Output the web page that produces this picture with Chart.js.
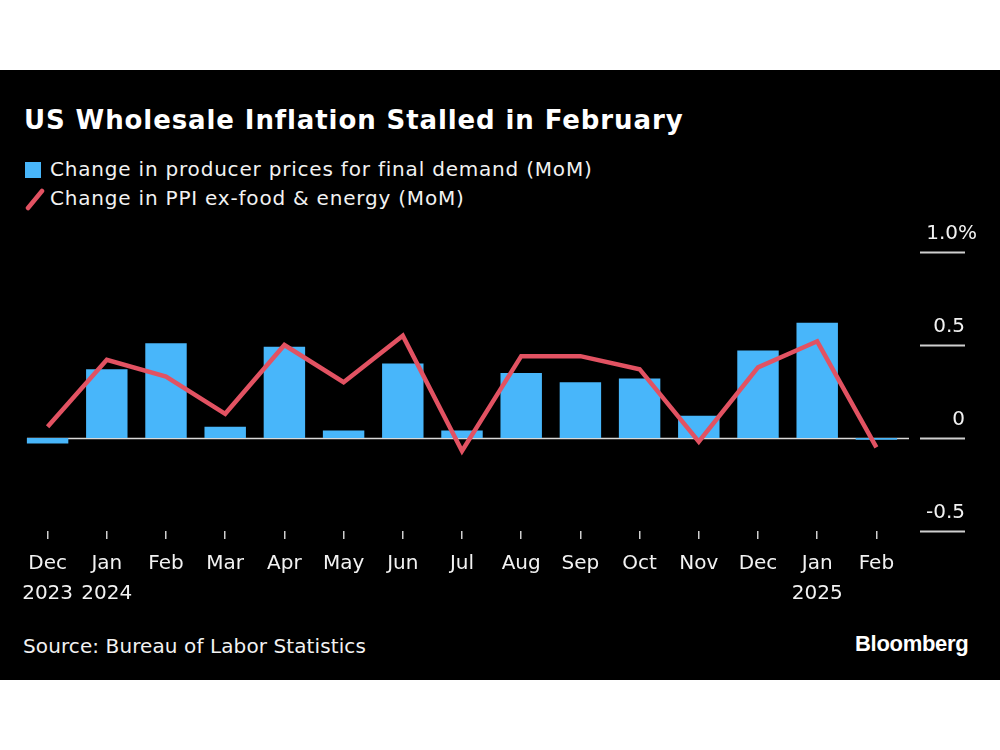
<!DOCTYPE html>
<html>
<head>
<meta charset="utf-8">
<script src="https://cdn.jsdelivr.net/npm/chart.js@4"></script>
<style>
  html, body { margin: 0; padding: 0; background: #fff; }
  #wrap { position: relative; width: 1000px; height: 750px; background: #fff; overflow: hidden; }
  #panel { position: absolute; left: 0; top: 70px; width: 1000px; height: 610px; background: #000; }
  #chart { position: absolute; left: 0; top: 0; }
  .txt { position: absolute; color: #f2f2f2; font-family: "DejaVu Sans", sans-serif; white-space: nowrap; }
  #title { left: 24px; top: 105px; font-size: 26px; font-weight: bold; color: #fff; letter-spacing: 0.9px; }
  .leg { left: 50px; font-size: 20px; letter-spacing: 0.8px; }
  #leg1 { top: 157px; }
  #leg2 { top: 186px; }
  #sq { position: absolute; left: 25px; top: 162px; width: 16px; height: 16px; background: rgb(72,182,250); }
  #slash { position: absolute; left: 24px; top: 188px; }
  #source { left: 23px; top: 634px; font-size: 20px; letter-spacing: 0.1px; }
  #logo { left: 855px; top: 631px; font-size: 22px; font-weight: bold; color: #fff; font-family: "Liberation Sans", sans-serif; letter-spacing: -0.3px; }
</style>
</head>
<body>
<div id="wrap">
  <div id="panel"></div>
  <div id="title" class="txt">US Wholesale Inflation Stalled in February</div>
  <div id="sq"></div>
  <svg id="slash" width="22" height="24"><line x1="4" y1="20" x2="18" y2="3" stroke="rgb(226,82,98)" stroke-width="4.5" stroke-linecap="round"/></svg>
  <div id="leg1" class="txt leg">Change in producer prices for final demand (MoM)</div>
  <div id="leg2" class="txt leg">Change in PPI ex-food &amp; energy (MoM)</div>
  <div id="source" class="txt">Source: Bureau of Labor Statistics</div>
  <div id="logo" class="txt">Bloomberg</div>
  <canvas id="chart" width="1000" height="750"></canvas>
</div>
<script>
let months = ['Dec', 'Jan', 'Feb', 'Mar', 'Apr', 'May', 'Jun', 'Jul', 'Aug', 'Sep', 'Oct', 'Nov', 'Dec', 'Jan', 'Feb']
let years = ['2023', '2024', '', '', '', '', '', '', '', '', '', '', '', '2025', '']
let finalDemand = [-0.03, 0.37, 0.51, 0.06, 0.49, 0.04, 0.40, 0.04, 0.35, 0.30, 0.32, 0.12, 0.47, 0.62, -0.01]
let exFoodEnergy = [0.06, 0.42, 0.33, 0.13, 0.50, 0.30, 0.55, -0.07, 0.44, 0.44, 0.37, -0.02, 0.38, 0.52, -0.05]
let yTicks = [-0.5, 0, 0.5, 1.0]
let yTickLabels = ['-0.5', '0', '0.5', '1.0%']

let labels = months.map((m, i) => years[i] ? [m, years[i]] : [m])

// right-hand axis: short lines with the label sitting on top, plus the zero line
let rightAxis = {
    id: 'rightAxis',
    beforeDatasetsDraw: (chart) => {
        let ctx = chart.ctx
        let y = chart.scales.y
        let area = chart.chartArea
        let y0 = Math.round(y.getPixelForValue(0)) + 0.5
        ctx.save()
        ctx.strokeStyle = '#d9d9d9'
        ctx.lineWidth = 1.5
        ctx.beginPath()
        ctx.moveTo(area.left + 9, y0)
        ctx.lineTo(area.right + 3, y0)
        ctx.stroke()
        ctx.restore()
    },
    afterDraw: (chart) => {
        let ctx = chart.ctx
        let y = chart.scales.y
        ctx.save()
        ctx.font = '20px "DejaVu Sans"'
        ctx.fillStyle = '#f2f2f2'
        ctx.textAlign = 'right'
        ctx.textBaseline = 'alphabetic'
        yTicks.forEach((v, i) => {
            let py = Math.round(y.getPixelForValue(v)) + 0.5
            ctx.strokeStyle = '#cfcfcf'
            ctx.lineWidth = 2
            ctx.beginPath()
            ctx.moveTo(920, py)
            ctx.lineTo(965, py)
            ctx.stroke()
            let txt = yTickLabels[i]
            let x = txt.endsWith('%') ? 977 : 965
            ctx.fillText(txt, x, py - 14)
        })
        ctx.restore()
    }
}

let ctx = document.getElementById('chart').getContext('2d')
let chart = new Chart(ctx, {
    type: 'bar',
    data: {
        labels: labels,
        datasets: [{
            type: 'line',
            label: 'Change in PPI ex-food & energy (MoM)',
            data: exFoodEnergy,
            borderColor: 'rgb(226,82,98)',
            borderWidth: 4.5,
            pointRadius: 0,
            tension: 0,
            order: 1
        }, {
            type: 'bar',
            label: 'Change in producer prices for final demand (MoM)',
            data: finalDemand,
            backgroundColor: 'rgb(72,182,250)',
            categoryPercentage: 1,
            barPercentage: 0.7,
            order: 2
        }]
    },
    options: {
        responsive: false,
        animation: false,
        devicePixelRatio: 1,
        layout: { padding: { left: 18, right: 94, top: 252, bottom: 139 } },
        plugins: { legend: { display: false }, tooltip: { enabled: false } },
        scales: {
            x: {
                offset: true,
                grid: { offset: false, drawOnChartArea: false, drawTicks: true, tickLength: 8, color: '#cfcfcf', lineWidth: 1.5 },
                border: { display: false },
                ticks: { color: '#f2f2f2', font: { family: 'DejaVu Sans', size: 20, lineHeight: 1.5 }, padding: 10, maxRotation: 0, autoSkip: false },
                afterFit: (scale) => { scale.height = 80 }
            },
            y: {
                display: false,
                min: -0.5,
                max: 1.0,
                ticks: { stepSize: 0.5 }
            }
        }
    },
    plugins: [rightAxis]
})
</script>
</body>
</html>
